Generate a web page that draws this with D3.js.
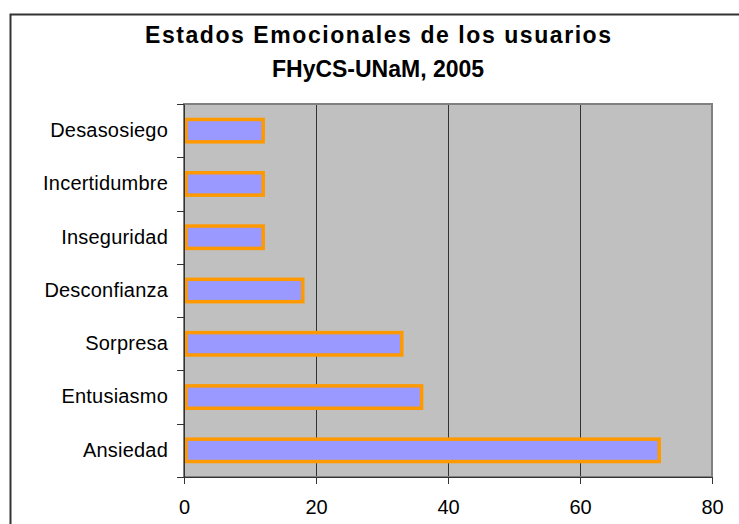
<!DOCTYPE html>
<html>
<head>
<meta charset="utf-8">
<script src="https://cdn.jsdelivr.net/npm/d3@7"></script>
<style>
  body { margin: 0; background: #fff; }
  svg { display: block; font-family: "Liberation Sans", Arial, sans-serif; }
</style>
</head>
<body>
<div id="chart"></div>
<script>
// datos del grafico
var estados = ["Ansiedad", "Entusiasmo", "Sorpresa", "Desconfianza", "Inseguridad", "Incertidumbre", "Desasosiego"];
var valores = [72, 36, 33, 18, 12, 12, 12];
var ticksX = [0, 20, 40, 60, 80];
var titulo = ["Estados Emocionales de los usuarios", "FHyCS-UNaM, 2005"];
var anchoTitulo = [466, 212];

var W = 739, H = 524;
var margin = {top: 104, right: 27, bottom: 47, left: 184},
    width = W - margin.left - margin.right,
    height = H - margin.top - margin.bottom;

var svg = d3.select("#chart").append("svg")
    .attr("width", W)
    .attr("height", H);

// marco exterior
svg.append("rect")
    .attr("x", 10.5).attr("y", 14.5)
    .attr("width", W + 20).attr("height", H + 20)
    .attr("fill", "none")
    .attr("stroke", "#333")
    .attr("stroke-width", 2);

svg.selectAll(".titulo")
    .data(titulo)
  .enter().append("text")
    .attr("class", "titulo")
    .attr("x", 378)
    .attr("y", function(d, i) { return 43 + i * 34; })
    .attr("text-anchor", "middle")
    .attr("textLength", function(d, i) { return anchoTitulo[i]; })
    .attr("lengthAdjust", "spacing")
    .style("font-weight", "bold")
    .style("font-size", "23px")
    .text(function(d) { return d; });

var g = svg.append("g")
    .attr("transform", "translate(" + margin.left + "," + margin.top + ")");

var x = d3.scaleLinear().domain([0, 80]).range([0, width]);
var y = d3.scaleBand().domain(estados).range([height, 0]);

g.append("rect")
    .attr("width", width).attr("height", height)
    .attr("fill", "#c0c0c0");

// lineas de la grilla
g.selectAll(".grid")
    .data(ticksX.slice(1, -1))
  .enter().append("line")
    .attr("class", "grid")
    .attr("x1", function(d) { return Math.round(x(d)) + 0.5; })
    .attr("x2", function(d) { return Math.round(x(d)) + 0.5; })
    .attr("y1", 0).attr("y2", height)
    .attr("stroke", "#333")
    .attr("stroke-width", 1);

g.append("rect")
    .attr("x", 0).attr("y", 0)
    .attr("width", width).attr("height", height)
    .attr("fill", "none")
    .attr("stroke", "#808080")
    .attr("stroke-width", 2);

var bh = y.bandwidth() * 0.42;
g.selectAll(".bar")
    .data(valores)
  .enter().append("rect")
    .attr("class", "bar")
    .attr("x", x(0) + 2)
    .attr("y", function(d, i) { return y(estados[i]) + (y.bandwidth() - bh) / 2; })
    .attr("width", function(d) { return x(d) - x(0) - 2; })
    .attr("height", bh)
    .attr("fill", "#9999ff")
    .attr("stroke", "#ff9900")
    .attr("stroke-width", 3.5);

// eje y
var yAxis = d3.axisLeft(y).tickSize(0).tickPadding(16);
var gy = g.append("g").call(yAxis);
gy.select(".domain").attr("stroke", "#333");
gy.selectAll("text")
    .style("font-size", "20px")
    .style("letter-spacing", "0.2px")
    .attr("fill", "#000");

g.selectAll(".ytick")
    .data(d3.range(estados.length + 1))
  .enter().append("line")
    .attr("class", "ytick")
    .attr("x1", -7).attr("x2", 0)
    .attr("y1", function(d) { return Math.round(d * y.step()) + 0.5; })
    .attr("y2", function(d) { return Math.round(d * y.step()) + 0.5; })
    .attr("stroke", "#333");

// eje x
var xAxis = d3.axisBottom(x).tickValues(ticksX).tickSize(7).tickPadding(16);
var gx = g.append("g")
    .attr("transform", "translate(0," + height + ")")
    .call(xAxis);
gx.select(".domain").attr("stroke", "#333");
gx.selectAll("line").attr("stroke", "#333");
gx.selectAll("text").style("font-size", "20px").attr("fill", "#000");
</script>
</body>
</html>
